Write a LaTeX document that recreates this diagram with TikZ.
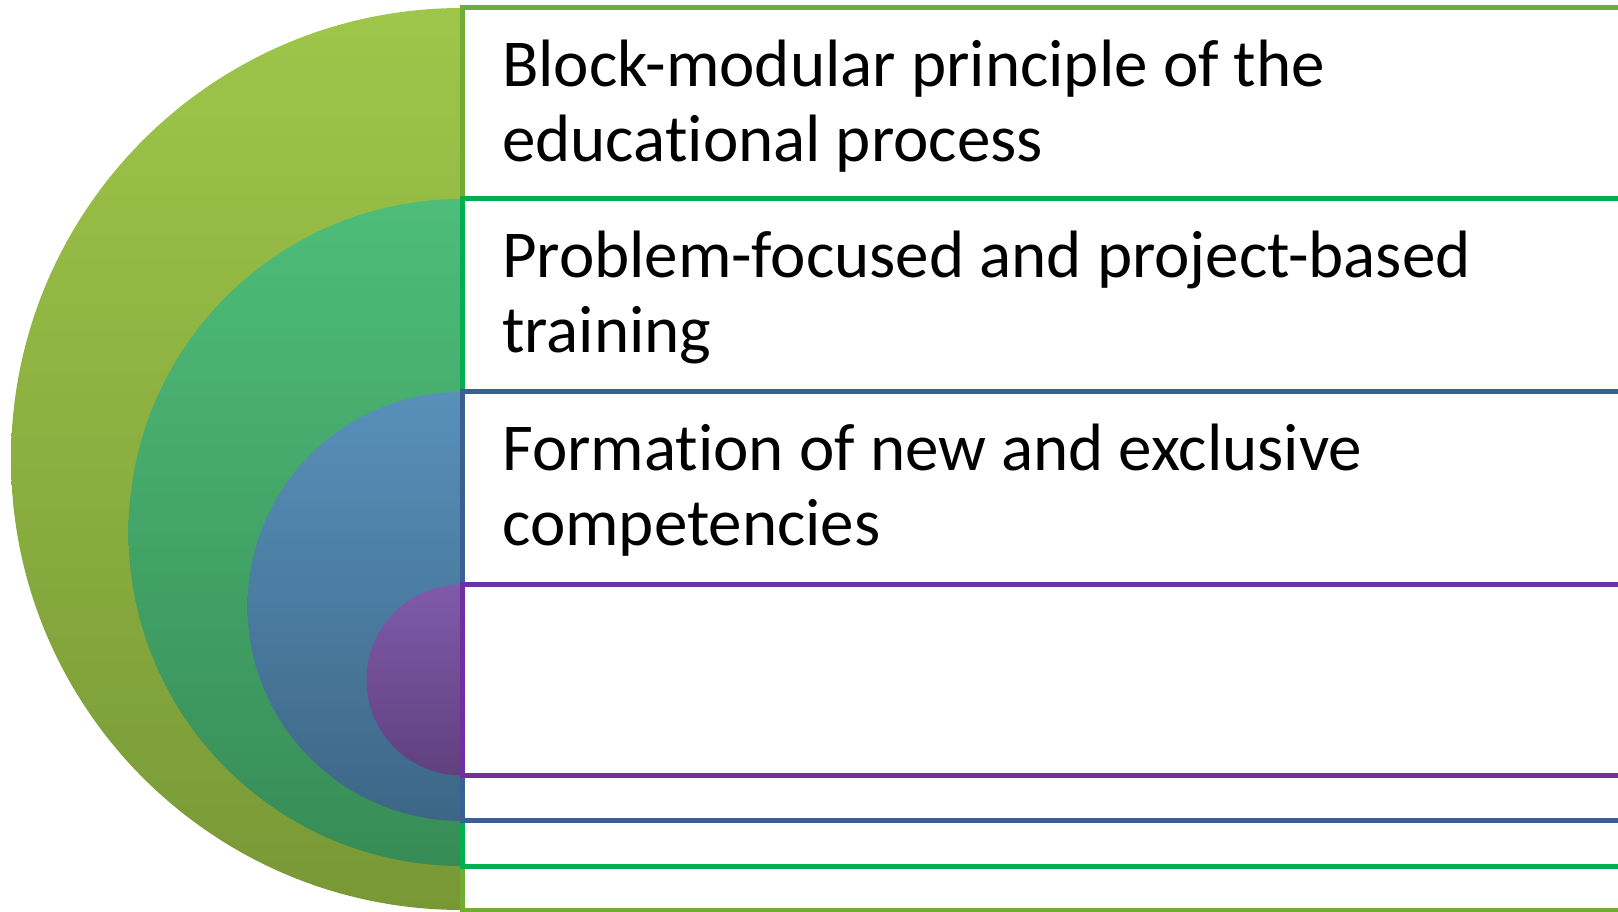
\documentclass[tikz,border=0pt]{standalone}
\usepackage{fontspec}
\setmainfont{Carlito}[Ligatures=NoCommon]
\usetikzlibrary{positioning}
\definecolor{olivetop}{RGB}{158,198,74}
\definecolor{olivebot}{RGB}{120,152,54}
\definecolor{oliveline}{RGB}{112,173,48}
\definecolor{greentop}{RGB}{78,189,121}
\definecolor{greenbot}{RGB}{55,140,86}
\definecolor{greenline}{RGB}{0,176,80}
\definecolor{bluetop}{RGB}{88,144,186}
\definecolor{bluebot}{RGB}{61,102,134}
\definecolor{blueline}{RGB}{58,96,146}
\definecolor{purpletop}{RGB}{128,90,170}
\definecolor{purplebot}{RGB}{96,64,126}
\definecolor{purpleline}{RGB}{112,48,160}
\tikzstyle{box}=[rectangle,line width=5pt,fill=white,minimum width=1180pt,
inner sep=0pt,outer sep=0pt,anchor=north west]
\tikzstyle{txt}=[align=left,inner sep=0pt,font=\fontsize{67}{75}\selectfont]

\begin{document}
\begin{tikzpicture}[x=1pt,y=1pt]
            \clip (0,0) rectangle (1618,911);

            % OUTER LEVEL

            \shade[top color=olivetop,bottom color=olivebot] (462,903) arc[start angle=90,end angle=270,radius=451] -- cycle;
            \node[box,draw=oliveline,minimum height=902pt] (b1) at (462,903) {};
            \node[txt,below right=32pt and 40pt of b1.north west] (l1) {Block-modular principle of the\\educational process};

            % SECOND LEVEL

            \shade[top color=greentop,bottom color=greenbot] (462,712) arc[start angle=90,end angle=270,radius=333.5] -- cycle;
            \node[box,draw=greenline,minimum height=667pt] (b2) at (462,712) {};
            \node[txt,below right=32pt and 40pt of b2.north west] (l2) {Problem-focused and project-based\\training};

            % THIRD LEVEL

            \shade[top color=bluetop,bottom color=bluebot] (462,519) arc[start angle=90,end angle=270,radius=214.5] -- cycle;
            \node[box,draw=blueline,minimum height=429pt] (b3) at (462,519) {};
            \node[txt,below right=32pt and 40pt of b3.north west] (l3) {Formation of new and exclusive\\competencies};

            % INNER LEVEL

            \shade[top color=purpletop,bottom color=purplebot] (462,326.5) arc[start angle=90,end angle=270,radius=95.5] -- cycle;
            \node[box,draw=purpleline,minimum height=191pt] (b4) at (462,326.5) {};

\end{tikzpicture}
\end{document}
